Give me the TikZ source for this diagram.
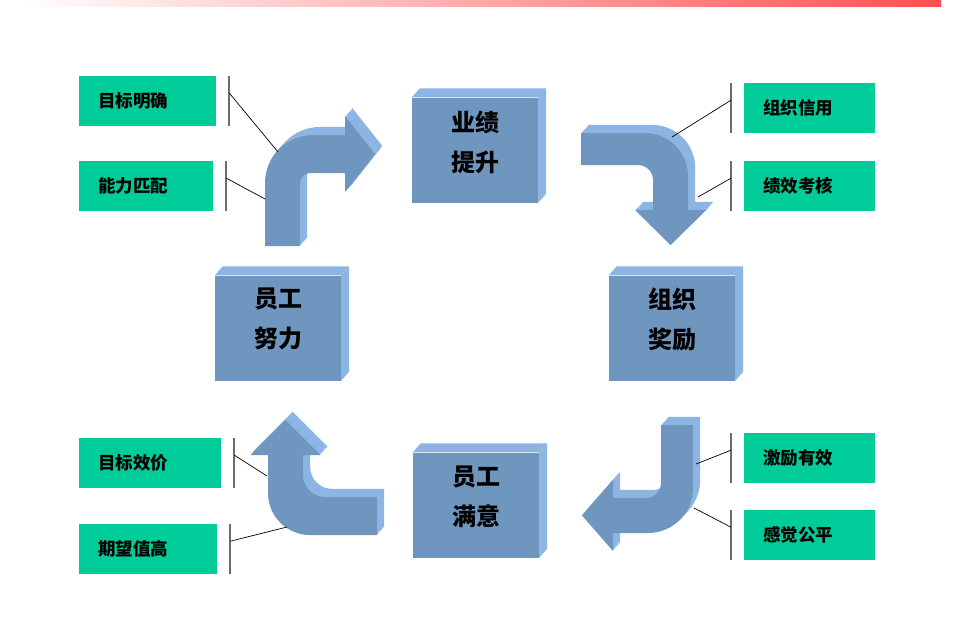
\documentclass[tikz,border=0pt]{standalone}
\usepackage{fontspec}
\newfontfamily\cjk{Noto Sans CJK SC}
\usetikzlibrary{calc}

\definecolor{stagefront}{RGB}{111,150,190}
\definecolor{stageside}{RGB}{141,181,228}
\definecolor{stagetop}{RGB}{142,180,227}
\definecolor{tagfill}{RGB}{0,204,153}
\definecolor{barred}{RGB}{255,80,80}

\tikzset{
  stage/.style={fill=stagefront, minimum width=126pt, minimum height=105pt, inner sep=0pt},
  stagetext/.style={font=\cjk\bfseries\fontsize{24}{40}\selectfont, align=center},
  tag/.style={fill=tagfill, anchor=north west, minimum height=50pt, inner xsep=19pt,
    inner ysep=0pt, align=left, font=\cjk\bfseries\fontsize{17.5}{20}\selectfont},
  tick/.style={draw=gray!85!black, line width=2pt},
  leader/.style={draw=black, line width=0.7pt},
}

% top and side faces of a stage box
\newcommand\stagefaces[1]{%
  \fill[stagetop] (#1.north west) -- ++(8,-9) -- ($(#1.north east)+(8,-9)$) -- (#1.north east) -- cycle;
  \fill[stageside] (#1.north east) -- ++(8,-9) -- ($(#1.south east)+(8,-9)$) -- (#1.south east) -- cycle;}

% bent arrow with depth
\newcommand\solidarrow[1]{%
  \foreach \k in {9,...,1}{\fill[stageside, shift={(0.8*\k,-0.9*\k)}] #1;}
  \fill[stagefront] #1;}

\def\arrowup{(265,246) -- (265,183) .. controls (265,156.5) and (286.5,135) .. (313,135)
  -- (345,135) -- (345,116) -- (375,154) -- (345,192) -- (345,173) -- (310,173)
  .. controls (304.5,173) and (300,177.5) .. (300,183) -- (300,246) -- cycle}
\def\arrowright{(581,133) -- (645,133) .. controls (668.7,133) and (688,152.3) .. (688,176)
  -- (688,210) -- (706,210) -- (670.5,245) -- (635,210) -- (653,210) -- (653,180)
  .. controls (653,171.7) and (646.3,165) .. (638,165) -- (581,165) -- cycle}
\def\arrowdown{(661,425) -- (693,425) -- (693,488) .. controls (693,512.9) and (672.9,533) .. (648,533)
  -- (613,533) -- (613,551) -- (582,515.5) -- (613,480) -- (613,498) -- (646,498)
  .. controls (654.3,498) and (661,491.3) .. (661,483) -- cycle}
\def\arrowleft{(377,497) -- (325,497) .. controls (312.8,497) and (303,487.2) .. (303,475)
  -- (303,455) -- (320.5,455) -- (285.5,420) -- (250.5,455) -- (268,455) -- (268,493)
  .. controls (268,516.2) and (286.8,535) .. (310,535) -- (377,535) -- cycle}

\begin{document}
\begin{tikzpicture}[x=1pt, y=-1pt]
  \useasboundingbox[fill=white] (0,0) rectangle (958,621);

  % red bar at the top
  \shade[left color=white, right color=barred] (20,0) rectangle (941,6);

  % the four stages
  \node[stage] (perf) at (475,150) {};
  \node[stage] (effort) at (278,328) {};
  \node[stage] (reward) at (672,328) {};
  \node[stage] (satis) at (476,505) {};
  \stagefaces{perf}
  \stagefaces{effort}
  \stagefaces{reward}
  \stagefaces{satis}
  \node[stagetext] (perftext) at ([yshift=8pt]perf.center) {业绩\\提升};
  \node[stagetext] (efforttext) at ([yshift=9pt]effort.center) {员工\\努力};
  \node[stagetext] (rewardtext) at ([yshift=9pt]reward.center) {组织\\奖励};
  \node[stagetext] (satistext) at ([yshift=8pt]satis.center) {员工\\满意};

  % arrows between the stages
  \solidarrow{\arrowup}
  \solidarrow{\arrowright}
  \solidarrow{\arrowdown}
  \solidarrow{\arrowleft}

  % points the leaders run to
  \coordinate (a1p) at (278,152);
  \coordinate (a1q) at (265,199);
  \coordinate (a2p) at (672,137);
  \coordinate (a2q) at (698,197);
  \coordinate (a3p) at (696,464);
  \coordinate (a3q) at (694,508);
  \coordinate (a4p) at (267,476);
  \coordinate (a4q) at (287,527);

  % factor tags
  \node[tag, text width=99pt] (g1) at (79,76) {目标明确};
  \node[tag, text width=96pt] (g2) at (79,161) {能力匹配};
  \node[tag, text width=93pt] (g3) at (744,83) {组织信用};
  \node[tag, text width=93pt] (g4) at (744,161) {绩效考核};
  \node[tag, text width=93pt] (g5) at (744,433) {激励有效};
  \node[tag, text width=93pt] (g6) at (744,510) {感觉公平};
  \node[tag, text width=104pt] (g7) at (79,438) {目标效价};
  \node[tag, text width=100pt] (g8) at (79,524) {期望值高};

  \foreach \g in {g1,g2,g7,g8}
    \draw[tick] ([xshift=13pt]\g.north east) -- ([xshift=13pt]\g.south east);
  \foreach \g in {g3,g4,g5,g6}
    \draw[tick] ([xshift=-13pt]\g.north west) -- ([xshift=-13pt]\g.south west);

  \draw[leader] ([shift={(13pt,8pt)}]g1.east) -- (a1p);
  \draw[leader] ([shift={(13pt,8pt)}]g2.east) -- (a1q);
  \draw[leader] ([shift={(-13pt,8pt)}]g3.west) -- (a2p);
  \draw[leader] ([shift={(-13pt,8pt)}]g4.west) -- (a2q);
  \draw[leader] ([shift={(-13pt,8pt)}]g5.west) -- (a3p);
  \draw[leader] ([shift={(-13pt,8pt)}]g6.west) -- (a3q);
  \draw[leader] ([shift={(13pt,8pt)}]g7.east) -- (a4p);
  \draw[leader] ([shift={(13pt,8pt)}]g8.east) -- (a4q);
\end{tikzpicture}
\end{document}
